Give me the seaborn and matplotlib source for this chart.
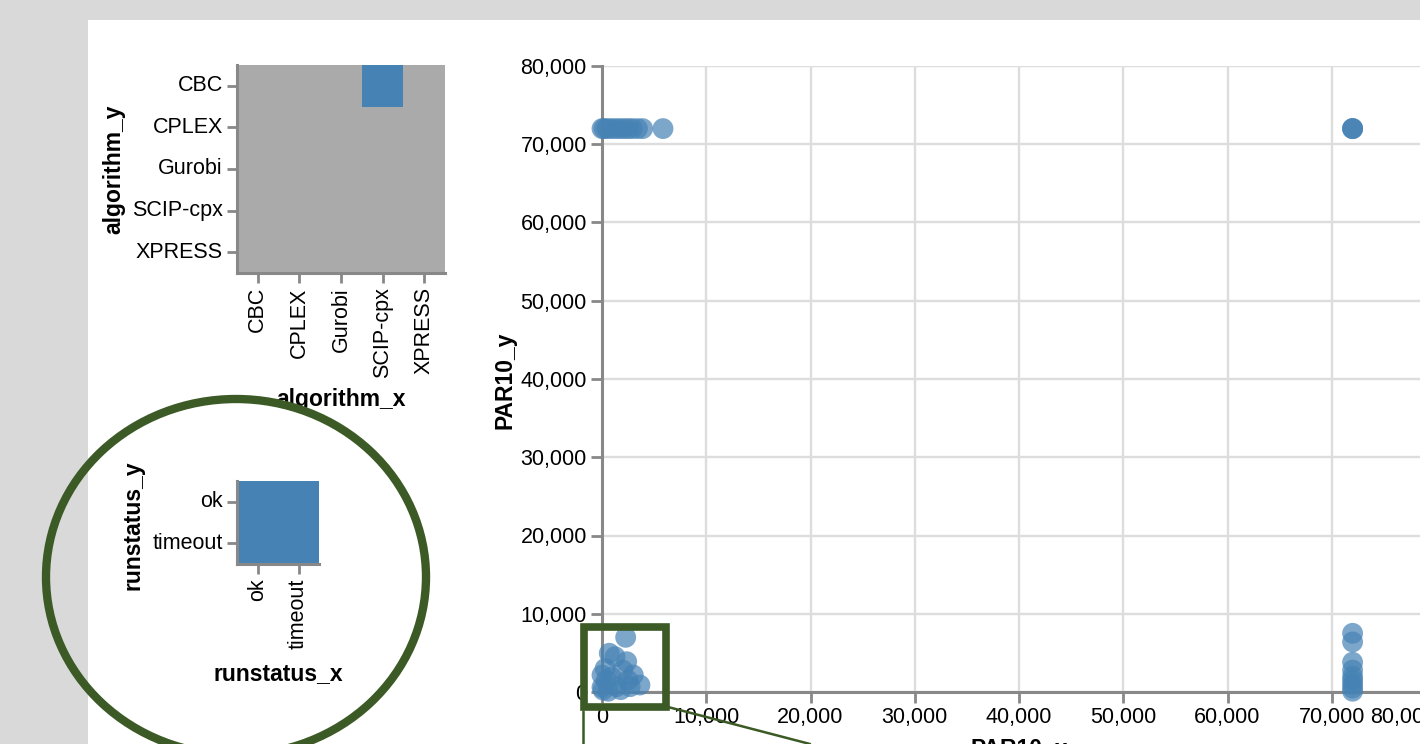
import numpy as np
import pandas as pd
import matplotlib
matplotlib.use("Agg")
import matplotlib.pyplot as plt
import seaborn as sns
from matplotlib.colors import ListedColormap
from matplotlib.patches import Ellipse, Rectangle
from matplotlib.ticker import FuncFormatter

# --- data ---
algorithms = ["CBC", "CPLEX", "Gurobi", "SCIP-cpx", "XPRESS"]
algo_selected = [  # rows = algorithm_y, cols = algorithm_x
    [0, 0, 0, 1, 0],
    [0, 0, 0, 0, 0],
    [0, 0, 0, 0, 0],
    [0, 0, 0, 0, 0],
    [0, 0, 0, 0, 0],
]
runstatus = ["ok", "timeout"]
runstatus_selected = [
    [1, 1],
    [1, 1],
]

PAR10_x = [0, 200, 500, 900, 1300, 1700, 2100, 2500, 2900, 3400, 3900, 5850,
           72000, 72000, 72000, 72000, 72000, 72000, 72000, 72000, 72000, 72000, 72000, 72000,
           2270, 700, 1250, 2370, 3000, 3640, 0, 100, 1400, 2700, 2000, 400, 900, 0, 600, 1800, 2500, 300]
PAR10_y = [72000, 72000, 72000, 72000, 72000, 72000, 72000, 72000, 72000, 72000, 72000, 72000,
           72000, 72000, 72000, 7500, 6400, 3800, 2800, 2000, 1500, 1000, 500, 100,
           6990, 4950, 4510, 3870, 2170, 890, 2170, 250, 680, 680, 2800, 1500, 1900, 600, 100, 300, 1500, 3000]

BLUE = "#4682b4"
GRAY = "#aaaaaa"
AXIS = "#888888"
GREEN = "#3b5a25"
W, H = 1420, 744
LABEL_FS = 15.5
TITLE_FS = 16.5

sns.set_style("white")
plt.rcParams['font.family'] = ['Liberation Sans', 'DejaVu Sans']

fig = plt.figure(figsize=(W / 100, H / 100), dpi=100, facecolor="#d9d9d9")


def px_axes(x0, y0, x1, y1, **kw):
    # axes from pixel box (top-left origin)
    return fig.add_axes([x0 / W, 1 - y1 / H, (x1 - x0) / W, (y1 - y0) / H], **kw)


# white panel
bg = px_axes(0, 0, W, H)
bg.set_xlim(0, W)
bg.set_ylim(H, 0)
bg.axis("off")
bg.add_patch(Rectangle((88, 20), W - 88, H - 20, facecolor="white", edgecolor="none"))


def style_axes(ax, tick_px=10):
    for s in ["top", "right"]:
        ax.spines[s].set_visible(False)
    for s in ["left", "bottom"]:
        ax.spines[s].set_visible(True)
        ax.spines[s].set_color(AXIS)
        ax.spines[s].set_linewidth(2.2)
    ax.tick_params(length=tick_px * 0.72, width=2.0, color=AXIS, labelsize=LABEL_FS,
                   labelcolor="black", pad=3, left=True, bottom=True)


cmap = ListedColormap([GRAY, BLUE])

# --- algorithm heatmap ---
ax1 = px_axes(237, 65, 445, 273)
df1 = pd.DataFrame(algo_selected, index=algorithms, columns=algorithms)
sns.heatmap(df1, ax=ax1, cmap=cmap, vmin=0, vmax=1, cbar=False, square=False)
style_axes(ax1)
ax1.set_xticklabels(algorithms, rotation=90, va="top", ha="center")
ax1.set_yticklabels(algorithms, rotation=0)
ax1.set_xlabel("algorithm_x", fontsize=TITLE_FS, fontweight="bold", color="black")
ax1.set_ylabel("algorithm_y", fontsize=TITLE_FS, fontweight="bold", color="black")
ax1.xaxis.set_label_coords(0.5, -0.553)
ax1.yaxis.set_label_coords(-0.538, 0.5)

# --- runstatus heatmap ---
ax2 = px_axes(237, 481, 319, 564)
df2 = pd.DataFrame(runstatus_selected, index=runstatus, columns=runstatus)
sns.heatmap(df2, ax=ax2, cmap=cmap, vmin=0, vmax=1, cbar=False, square=False)
style_axes(ax2)
ax2.set_xticklabels(runstatus, rotation=90, va="top", ha="center")
ax2.set_yticklabels(runstatus, rotation=0)
ax2.set_xlabel("runstatus_x", fontsize=TITLE_FS, fontweight="bold", color="black")
ax2.set_ylabel("runstatus_y", fontsize=TITLE_FS, fontweight="bold", color="black")
ax2.xaxis.set_label_coords(0.5, -1.18)
ax2.yaxis.set_label_coords(-1.13, 0.47)

# --- scatter ---
ax3 = px_axes(602, 66, 1436, 692)
scat = pd.DataFrame({"PAR10_x": PAR10_x, "PAR10_y": PAR10_y})
sns.scatterplot(data=scat, x="PAR10_x", y="PAR10_y", ax=ax3, color=BLUE, alpha=0.7,
                s=225, edgecolor="none", clip_on=False, zorder=3)
ax3.set_xlim(0, 80000)
ax3.set_ylim(0, 80000)
ticks = np.arange(0, 80001, 10000)
ax3.set_xticks(ticks)
ax3.set_yticks(ticks)
fmt = FuncFormatter(lambda v, p: f"{int(v):,}")
ax3.xaxis.set_major_formatter(fmt)
ax3.yaxis.set_major_formatter(fmt)
style_axes(ax3, tick_px=11)
ax3.grid(True, color="#dddddd", linewidth=1.7)
ax3.set_axisbelow(True)
# last x label flush to the right end, like vega's labelFlush
ax3.get_xticklabels()[-1].set_horizontalalignment("right")
ax3.set_xlabel("PAR10_x", fontsize=TITLE_FS, fontweight="bold", color="black")
ax3.set_ylabel("PAR10_y", fontsize=TITLE_FS, fontweight="bold", color="black")
ax3.xaxis.set_label_coords(0.5, -0.072)
ax3.yaxis.set_label_coords(-0.102, 0.498)
ax3.set_facecolor("none")

# --- annotation overlay ---
ov = px_axes(0, 0, W, H)
ov.set_xlim(0, W)
ov.set_ylim(H, 0)
ov.axis("off")
ov.set_zorder(10)
ov.patch.set_alpha(0)
ov.add_patch(Ellipse((236, 577), 380, 356, fill=False, edgecolor=GREEN, linewidth=6))
ov.add_patch(Rectangle((584, 627), 82, 80, fill=False, edgecolor=GREEN, linewidth=5.5))
ov.plot([583, 583], [711, 760], color=GREEN, linewidth=1.8)
ov.plot([668, 810], [707, 744], color=GREEN, linewidth=1.8)

fig.savefig("out.png", dpi=100, facecolor=fig.get_facecolor())
